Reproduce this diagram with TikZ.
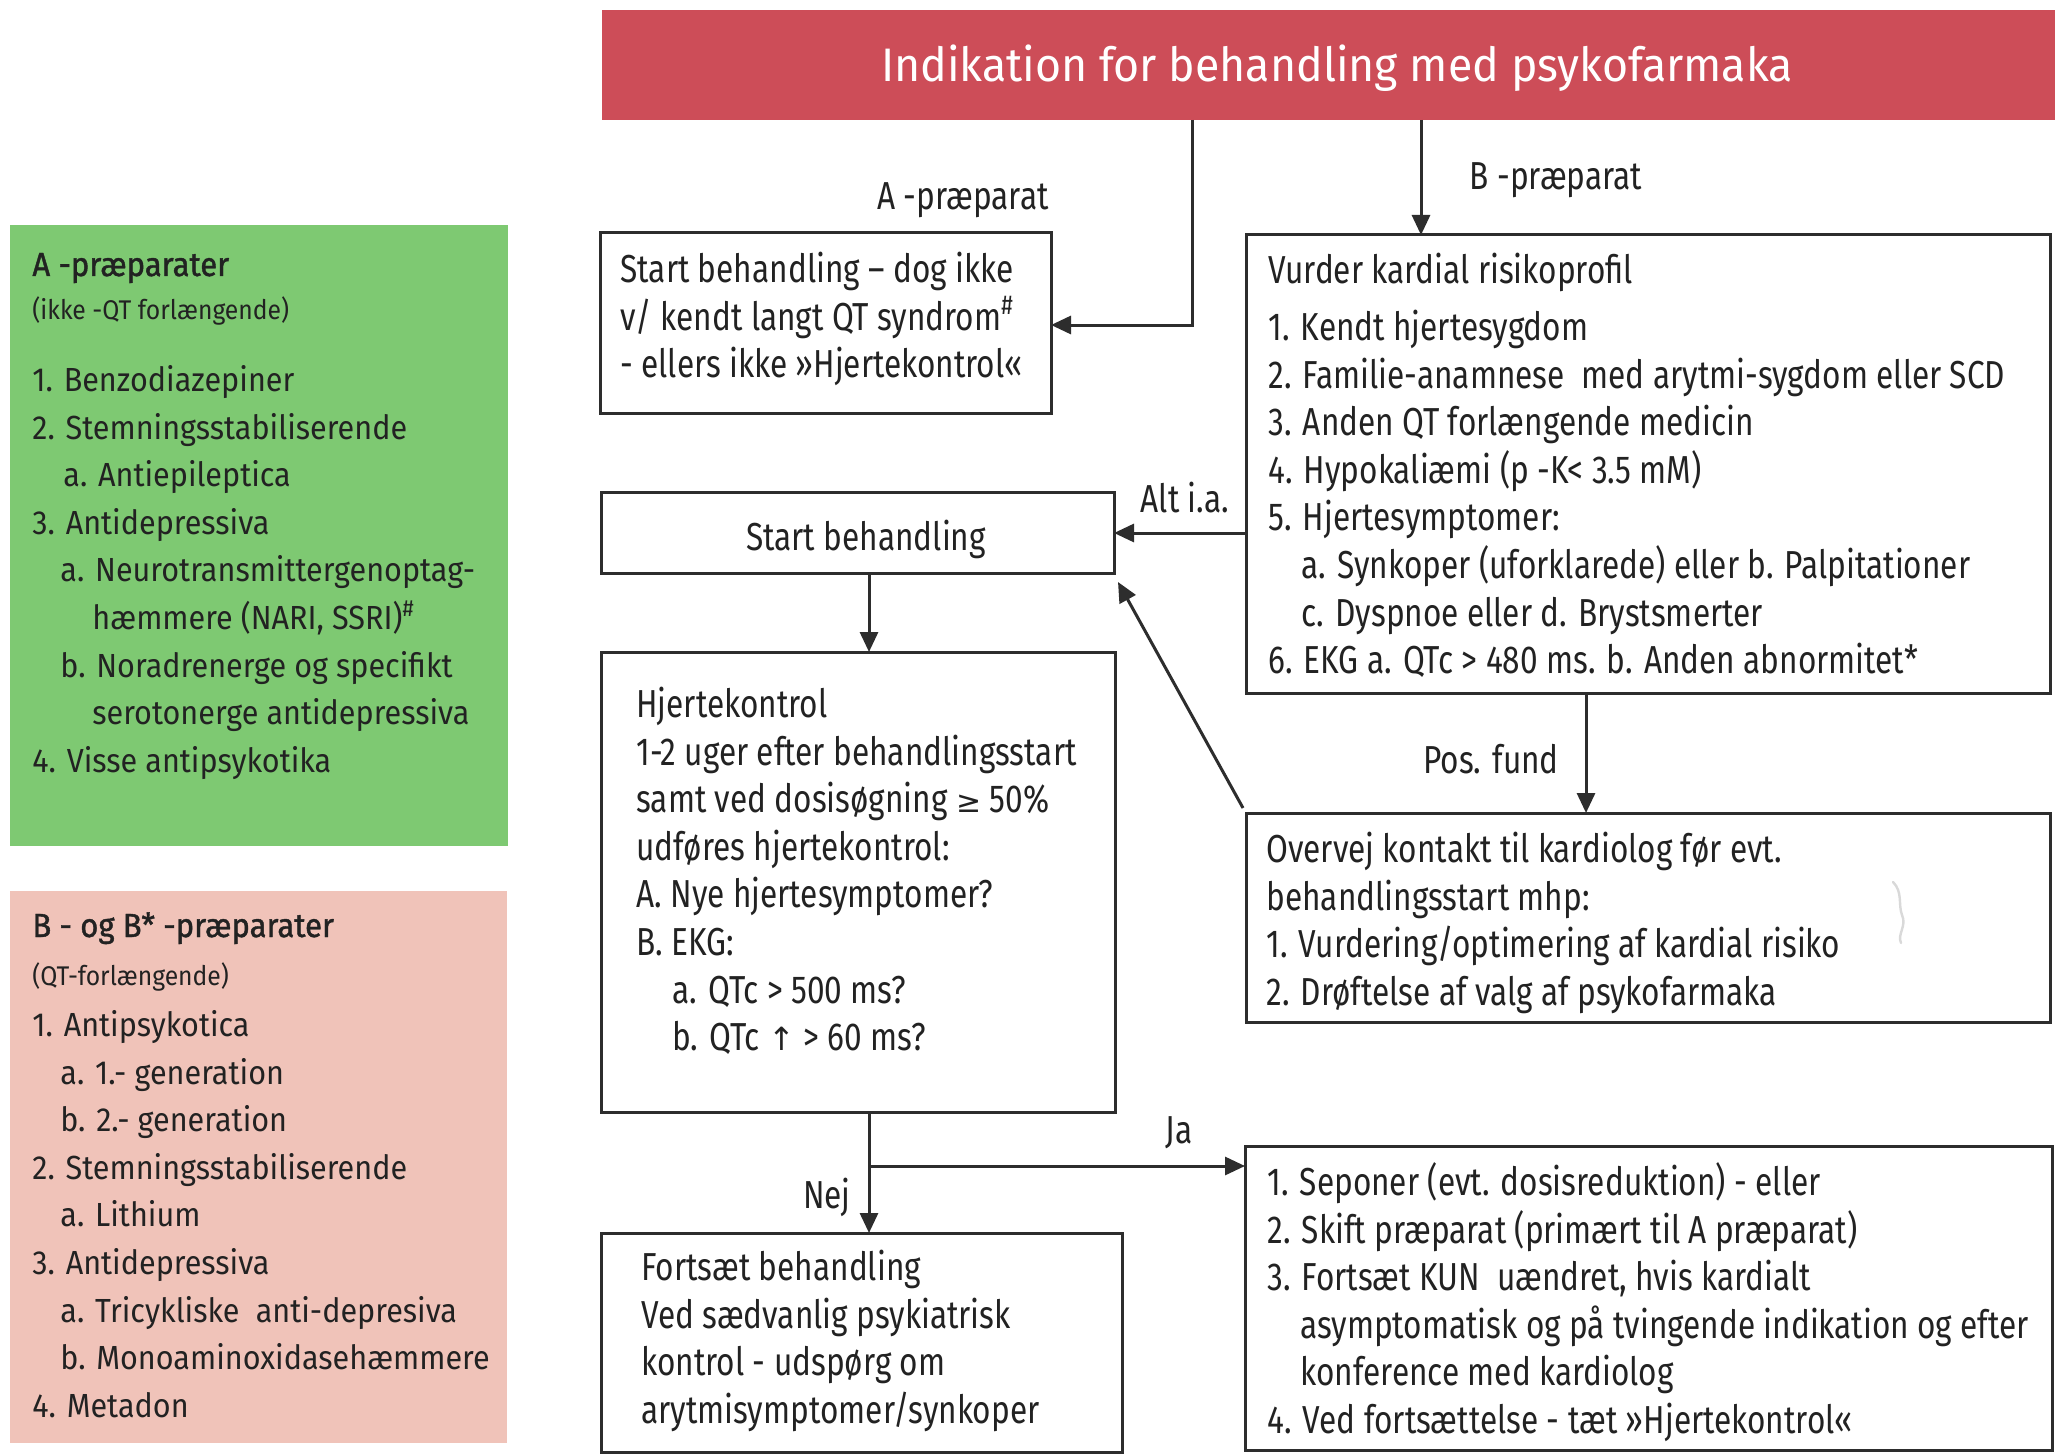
\documentclass[tikz,border=0pt]{standalone}
\usepackage{fontspec}
\setmainfont{Fira Sans}
\newfontfamily\fbody{Fira Sans}[FakeStretch=0.81]
\newfontfamily\flist{Fira Sans}[FakeStretch=0.915]
\newfontfamily\fhead{Fira Sans}[FakeStretch=0.93,FakeBold=1.2]
\newfontfamily\ftitle{Fira Sans}[FakeStretch=0.95]
\newfontfamily\fsym{DejaVu Sans}
\usetikzlibrary{arrows.meta,fit}
\definecolor{titlered}{RGB}{205,77,88}
\definecolor{boxgreen}{RGB}{126,201,114}
\definecolor{boxpink}{RGB}{240,195,185}
\definecolor{ink}{RGB}{34,34,34}
\definecolor{linecol}{RGB}{45,45,45}
\begin{document}
\begin{tikzpicture}[x=0.5pt,y=-0.5pt,
  panel/.style={inner sep=0pt, outer sep=0pt},
  flowbox/.style={draw=linecol, line width=1.5pt, inner sep=0pt, outer sep=0pt},
  conn/.style={draw=linecol, line width=1.5pt},
  arr/.style={conn, -{Triangle[length=10pt,width=9pt]}},
  btext/.style={anchor=north west, inner sep=0pt, align=left, text=ink,
     font=\fbody\fontsize{19.5}{23.8}\selectfont},
  blabel/.style={anchor=base, inner sep=0pt, text=ink,
     font=\fbody\fontsize{19.5}{23.8}\selectfont},
  ltext/.style={anchor=north west, inner sep=0pt, align=left, text=ink,
     font=\flist\fontsize{16.7}{23.8}\selectfont},
  lhead/.style={anchor=base west, inner sep=0pt, text=ink,
     font=\fhead\fontsize{16.7}{20}\selectfont},
  lsub/.style={anchor=base west, inner sep=0pt, text=ink,
     font=\flist\fontsize{13.5}{16}\selectfont}
]
\useasboundingbox (0,0) rectangle (2055,1455);
\fill[white] (0,0) rectangle (2055,1455);

% ---------- left panels ----------
\node[panel, fill=boxgreen, fit={(10,225) (508,846)}] (green) {};
\node[lhead] (gh) at (32,276) {A -præparater};
\node[lsub] (gs) at (32,320) {(ikke -QT forlængende)};
\node[ltext] (gl) at (32,357.7) {\strut 1. Benzodiazepiner\\
2. Stemningsstabiliserende\\
\hspace*{15.5pt}a. Antiepileptica\\
3. Antidepressiva\\
\hspace*{14pt}a. Neurotransmittergenoptag-\\
\hspace*{30pt}hæmmere (NARI, SSRI)\textsuperscript{\#}\\
\hspace*{14pt}b. Noradrenerge og specifikt\\
\hspace*{30pt}serotonerge antidepressiva\\
4. Visse antipsykotika};

\node[panel, fill=boxpink, fit={(10,891) (507,1443)}] (pink) {};
\node[lhead] (ph) at (32,937) {B - og B* -præparater};
\node[lsub] (ps) at (32,985) {(QT-forlængende)};
\node[ltext] (pl) at (32,1002.7) {\strut 1. Antipsykotica\\
\hspace*{14pt}a. 1.- generation\\
\hspace*{14pt}b. 2.- generation\\
2. Stemningsstabiliserende\\
\hspace*{14pt}a. Lithium\\
3. Antidepressiva\\
\hspace*{14pt}a. Tricykliske \ anti-depresiva\\
\hspace*{14pt}b. Monoaminoxidasehæmmere\\
4. Metadon};

% ---------- title ----------
\node[panel, fill=titlered, fit={(602,10) (2055,120)}] (title) {};
\node[anchor=base, inner sep=0pt, text=white,
      font=\ftitle\fontsize{23.5}{28}\selectfont] (titletext) at (1337,82)
      {Indikation for behandling med psykofarmaka};

% ---------- flow boxes ----------
\node[flowbox, fit={(600,233) (1051,413)}] (astart) {};
\node[btext] (astarttext) at (620,248.7) {\strut Start behandling – dog ikke\\
v/ kendt langt QT syndrom\textsuperscript{\#}\\
- ellers ikke »Hjertekontrol«};

\node[flowbox, fit={(1246,235) (2050,693)}] (vurder) {};
\node[btext] (vurderhead) at (1268,249.7) {\strut Vurder kardial risikoprofil};
\node[btext] (vurdertext) at (1268,306.7) {\strut 1. Kendt hjertesygdom\\
2. Familie-anamnese \ med arytmi-sygdom eller SCD\\
3. Anden QT forlængende medicin\\
4. Hypokaliæmi (p -K< 3.5 mM)\\
5. Hjertesymptomer:\\
\hspace*{16.5pt}a. Synkoper (uforklarede) eller b. Palpitationer\\
\hspace*{16.5pt}c. Dyspnoe eller d. Brystsmerter\\
6. EKG a. QTc > 480 ms. b. Anden abnormitet*};

\node[flowbox, fit={(601,492) (1114,573)}] (sb) {};
\node[blabel] (sbtext) at (866,550) {Start behandling};

\node[flowbox, fit={(601,652) (1115,1112)}] (hk) {};
\node[btext] (hktext) at (636,683.7) {\strut Hjertekontrol\\
1-2 uger efter behandlingsstart\\
samt ved dosisøgning {\fsym\fontsize{15}{20}\selectfont ≥} 50\%\\
udføres hjertekontrol:\\
A. Nye hjertesymptomer?\\
B. EKG:\\
\hspace*{18pt}a. QTc > 500 ms?\\
\hspace*{18pt}b. QTc {\fsym\fontsize{16}{20}\selectfont ↑} > 60 ms?};

\node[flowbox, fit={(1246,813) (2050,1022)}] (ov) {};
\node[btext] (ovtext) at (1266,828.7) {\strut Overvej kontakt til kardiolog før evt.\\
behandlingsstart mhp:\\
1. Vurdering/optimering af kardial risiko\\
2. Drøftelse af valg af psykofarmaka};

\node[flowbox, fit={(601,1233) (1122,1452)}] (ft) {};
\node[btext] (fttext) at (641,1246.7) {\strut Fortsæt behandling\\
Ved sædvanlig psykiatrisk\\
kontrol - udspørg om\\
arytmisymptomer/synkoper};

\node[flowbox, fit={(1245,1146) (2052,1450)}] (sep) {};
\node[btext] (septext) at (1267,1161.7) {\strut 1. Seponer (evt. dosisreduktion) - eller\\
2. Skift præparat (primært til A præparat)\\
3. Fortsæt KUN \ uændret, hvis kardialt\\
\hspace*{16.5pt}asymptomatisk og på tvingende indikation og efter\\
\hspace*{16.5pt}konference med kardiolog\\
4. Ved fortsættelse - tæt »Hjertekontrol«};

% ---------- labels ----------
\node[blabel] (lA) at (963,210) {A -præparat};
\node[blabel] (lB) at (1556,190) {B -præparat};
\node[blabel] (lalt) at (1185,512) {Alt i.a.};
\node[blabel] (lpos) at (1491,773) {Pos. fund};
\node[blabel] (lnej) at (827,1208) {Nej};
\node[blabel] (lja) at (1179,1143) {Ja};

% ---------- connectors ----------
\coordinate (ajoin) at (1192,325);
\coordinate (bx) at (1421,0);
\coordinate (alty) at (0,533);
\coordinate (cx) at (869,0);
\coordinate (px) at (1586,0);
\coordinate (branch) at (869,1166);

\draw[arr] (title.south -| ajoin) |- (astart.east |- ajoin);
\draw[arr] (title.south -| bx) -- (vurder.north -| bx);
\draw[arr] (vurder.west |- alty) -- (sb.east |- alty);
\draw[arr] (sb.south -| cx) -- (hk.north -| cx);
\draw[arr] (vurder.south -| px) -- (ov.north -| px);
\draw[arr] ([shift={(-3,-5)}]ov.north west) -- ([shift={(4,9)}]sb.south east);
\draw[arr] (hk.south -| cx) -- (ft.north -| cx);
\draw[arr] (branch) -- (sep.west |- branch);

% faint scan mark
\draw[black!15, line width=1.2pt, line cap=round]
  (1893,882) .. controls (1903,892) and (1898,905) .. (1902,915)
  .. controls (1907,926) and (1897,934) .. (1901,943);
\end{tikzpicture}
\end{document}
